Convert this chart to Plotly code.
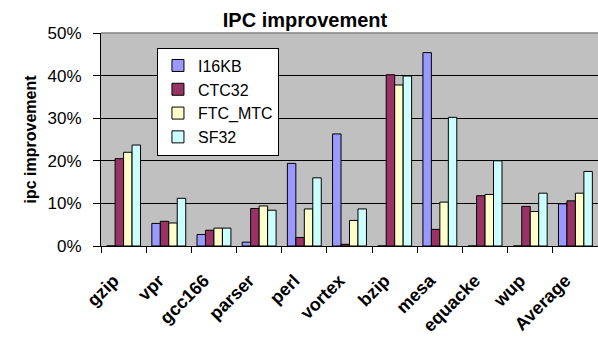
import plotly.graph_objects as go

# Benchmarks and per-configuration IPC improvement (%)
benchmarks = ["gzip", "vpr", "gcc166", "parser", "perl", "vortex",
              "bzip", "mesa", "equacke", "wup", "Average"]
i16kb   = [0.0, 5.3, 2.7, 0.9, 19.4, 26.3, 0.0, 45.4, 0.0, 0.0, 9.9]
ctc32   = [20.5, 5.8, 3.7, 8.8, 2.0, 0.4, 40.2, 3.9, 11.8, 9.3, 10.6]
ftc_mtc = [22.0, 5.4, 4.2, 9.4, 8.7, 6.0, 37.8, 10.3, 12.1, 8.1, 12.4]
sf32    = [23.7, 11.2, 4.2, 8.4, 16.0, 8.7, 39.9, 30.2, 20.0, 12.4, 17.5]

series = [
    ("I16KB", i16kb, "#9999FF"),
    ("CTC32", ctc32, "#993366"),
    ("FTC_MTC", ftc_mtc, "#FFFFCC"),
    ("SF32", sf32, "#CCFFFF"),
]

FONT = "Liberation Sans, Arial, sans-serif"

fig = go.Figure()
for name, vals, color in series:
    fig.add_trace(go.Bar(
        name=name, x=benchmarks, y=vals,
        legendgroup=name,
        marker=dict(color=color, line=dict(color="black", width=1)),
    ))

fig.update_layout(
    width=598, height=337,
    margin=dict(l=101, r=0, t=33, b=91),
    paper_bgcolor="white",
    plot_bgcolor="#C0C0C0",
    barmode="group",
    bargap=0.25,
    bargroupgap=0,
    font=dict(family=FONT, color="black"),
    title=dict(text="<b>IPC improvement</b>", x=0.51, xanchor="center",
               y=1 - 20 / 337, yanchor="middle",
               font=dict(size=20, family=FONT, color="black")),
    showlegend=True,
    legend=dict(
        x=0.1126, y=0.9316, xanchor="left", yanchor="top",
        bgcolor="white", bordercolor="black", borderwidth=1,
        font=dict(size=16, family=FONT, color="black"),
        tracegroupgap=8,
        itemwidth=30,
        traceorder="normal",
    ),
    xaxis=dict(
        type="category",
        showline=True, linecolor="black", linewidth=1,
        ticks="outside", tickson="boundaries", ticklen=6, tickcolor="black",
        tickangle=-45,
        ticklabelstandoff=16,
        ticklabelshift=-10,
        tickfont=dict(size=18, family=FONT, color="black", weight="bold"),
        showgrid=False,
    ),
    yaxis=dict(
        range=[0, 50],
        tickvals=[0, 10, 20, 30, 40, 50],
        ticktext=["0%", "10%", "20%", "30%", "40%", "50%"],
        showline=True, linecolor="black", linewidth=1,
        ticks="outside", ticklen=7, tickcolor="black",
        ticklabelstandoff=8,
        tickfont=dict(size=17, family=FONT, color="black"),
        showgrid=True, gridcolor="black", gridwidth=1,
        zeroline=False,
        title=dict(text="<b>ipc improvement</b>",
                   font=dict(size=16, family=FONT, color="black"),
                   standoff=6),
    ),
    shapes=[dict(type="line", xref="paper", yref="paper",
                 x0=0, x1=1, y0=1, y1=1,
                 line=dict(color="#808080", width=1.5))],
)

fig.write_html("out.html")
